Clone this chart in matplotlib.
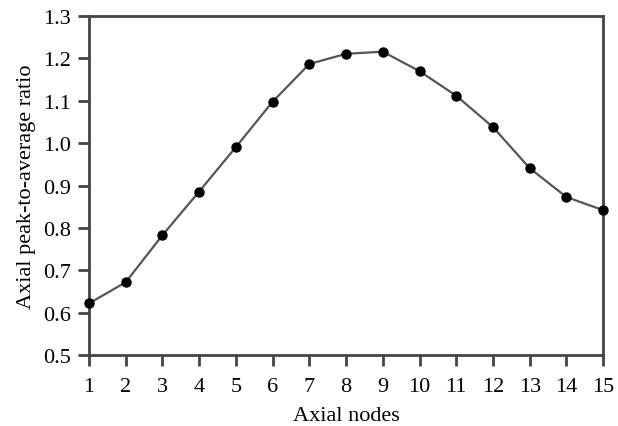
import matplotlib
matplotlib.use("Agg")
import matplotlib.pyplot as plt


# --------------------------------------------------
# DATA
# --------------------------------------------------

axial_nodes = [1, 2, 3, 4, 5, 6, 7, 8, 9, 10, 11, 12, 13, 14, 15]

peak_to_average = [
    0.622, 0.672, 0.783, 0.886, 0.991, 1.098, 1.187, 1.211,
    1.216, 1.170, 1.112, 1.038, 0.941, 0.873, 0.842,
]

y_ticks = [0.5, 0.6, 0.7, 0.8, 0.9, 1.0, 1.1, 1.2, 1.3]


# --------------------------------------------------
# FIGURE
# --------------------------------------------------

plt.rcParams["font.family"] = ["Liberation Serif", "DejaVu Serif"]

fig = plt.figure(figsize=(6.18, 4.27), dpi=100)
ax = fig.add_axes([0.144, 0.166, 0.832, 0.794])

ax.plot(
    axial_nodes,
    peak_to_average,
    color="#555555",
    linewidth=1.6,
    marker="o",
    markersize=6.5,
    markerfacecolor="black",
    markeredgecolor="black",
    clip_on=False,
    zorder=3,
)

ax.set_xlim(1, 15)
ax.set_ylim(0.5, 1.3)
ax.set_xticks(axial_nodes)
ax.set_yticks(y_ticks)
ax.set_yticklabels([f"{v:.1f}" for v in y_ticks])

for side in ["left", "bottom", "right", "top"]:
    ax.spines[side].set_color("#444444")
    ax.spines[side].set_linewidth(2.0)

ax.tick_params(
    axis="both",
    direction="out",
    length=8,
    width=2.0,
    color="#444444",
    labelsize=16,
    top=False,
    right=False,
)
ax.tick_params(axis="x", pad=8)
ax.tick_params(axis="y", pad=5)

ax.set_xlabel("Axial nodes", fontsize=16, labelpad=7)
ax.set_ylabel("Axial peak-to-average ratio", fontsize=16, labelpad=5)

fig.savefig("out.png", dpi=100)
plt.close(fig)
